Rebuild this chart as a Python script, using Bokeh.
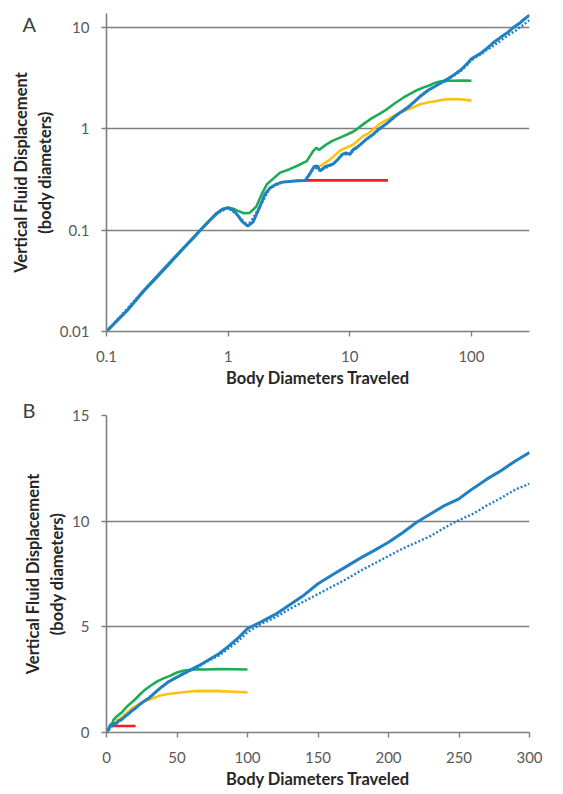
from bokeh.plotting import figure
from bokeh.layouts import column
from bokeh.models import FixedTicker
from bokeh.embed import file_html
from bokeh.resources import INLINE

# ---------------- data (body diameters traveled vs vertical displacement) ----------------
blue_x = [0.1, 0.15, 0.2, 0.3, 0.4, 0.5, 0.6, 0.7, 0.8, 0.9, 1.0, 1.1, 1.2, 1.3, 1.45,
          1.6, 1.8, 2.0, 2.2, 2.5, 2.8, 3.2, 3.7, 4.3, 4.7, 5.1, 5.4, 5.7, 6.2, 7.3, 8.0,
          8.7, 9.3, 10.0, 10.6, 11.5, 12.2, 13.5, 15.6, 17.8, 20, 23, 26, 30, 34, 38, 44,
          50, 55, 59, 65, 72, 80, 86, 93, 100, 110, 120, 130, 140, 150, 160, 170, 180,
          190, 200, 210, 220, 230, 240, 250, 260, 270, 280, 290, 300]
blue_y = [0.010, 0.0165, 0.025, 0.042, 0.061, 0.081, 0.102, 0.124, 0.145, 0.161, 0.166,
          0.158, 0.140, 0.122, 0.110, 0.120, 0.165, 0.225, 0.26, 0.285, 0.298, 0.303,
          0.307, 0.31, 0.36, 0.425, 0.43, 0.385, 0.42, 0.45, 0.50, 0.56, 0.58, 0.56,
          0.62, 0.66, 0.70, 0.78, 0.886, 1.02, 1.12, 1.30, 1.45, 1.62, 1.86, 2.10, 2.40,
          2.62, 2.80, 2.94, 3.15, 3.42, 3.74, 4.05, 4.45, 4.92, 5.25, 5.60, 6.05, 6.50,
          7.04, 7.45, 7.85, 8.25, 8.62, 9.00, 9.45, 9.95, 10.35, 10.75, 11.06, 11.55,
          12.00, 12.40, 12.85, 13.25]

bluedot_x = [0.1, 0.2, 0.4, 0.6, 0.8, 1.0, 1.2, 1.45, 1.8, 2.2, 2.8, 3.7, 4.3, 5.1, 5.7,
             7.3, 8.7, 10.0, 12.2, 15.6, 20, 26, 34, 44, 50, 59, 65, 72, 80, 86, 93, 100,
             110, 120, 130, 140, 150, 160, 170, 180, 190, 200, 210, 220, 230, 240, 250,
             260, 270, 280, 290, 300]
bluedot_y = [0.010, 0.025, 0.061, 0.102, 0.145, 0.166, 0.140, 0.110, 0.165, 0.26, 0.298,
             0.307, 0.31, 0.425, 0.385, 0.45, 0.56, 0.56, 0.70, 0.886, 1.12, 1.45, 1.86,
             2.40, 2.62, 2.92, 3.10, 3.38, 3.65, 3.95, 4.30, 4.75, 5.15, 5.45, 5.85, 6.20,
             6.55, 6.90, 7.25, 7.65, 8.00, 8.35, 8.70, 9.00, 9.30, 9.70, 10.05, 10.35,
             10.75, 11.10, 11.50, 11.77]

green_x = [0.1, 0.15, 0.2, 0.3, 0.4, 0.5, 0.6, 0.7, 0.8, 0.9, 1.0, 1.1, 1.2, 1.35, 1.5,
           1.7, 1.9, 2.08, 2.4, 2.68, 3.2, 3.67, 4.43, 4.8, 5.04, 5.3, 5.6, 6.0, 6.4, 7.2,
           8.3, 9.5, 10.5, 11.4, 13, 15, 17.8, 20, 24, 27.7, 31, 36, 40, 45, 50, 55, 59,
           65, 70, 80, 90, 100]
green_y = [0.010, 0.0163, 0.0245, 0.041, 0.060, 0.080, 0.101, 0.124, 0.146, 0.162, 0.167,
           0.163, 0.155, 0.147, 0.148, 0.17, 0.23, 0.284, 0.33, 0.37, 0.40, 0.43, 0.48,
           0.56, 0.61, 0.65, 0.62, 0.66, 0.70, 0.76, 0.82, 0.88, 0.93, 0.99, 1.12, 1.26,
           1.42, 1.55, 1.82, 2.04, 2.20, 2.42, 2.55, 2.68, 2.84, 2.93, 2.96, 2.99, 2.98,
           3.00, 2.99, 2.98]

yellow_x = [5.4, 5.7, 6.9, 8.3, 9.3, 10.7, 12.9, 13.9, 17.8, 20, 26, 30, 38, 43.5, 50,
            56, 63, 70, 80, 90, 100]
yellow_y = [0.42, 0.43, 0.50, 0.61, 0.65, 0.70, 0.85, 0.886, 1.13, 1.22, 1.45, 1.55, 1.75,
            1.82, 1.87, 1.92, 1.96, 1.97, 1.96, 1.93, 1.90]

red_x = [4.3, 8, 12, 16, 20.6]
red_y = [0.31, 0.31, 0.31, 0.31, 0.31]

log_xticks = [0.1, 1, 10, 100]
log_xlabels = ["0.1", "1", "10", "100"]
log_yticks = [0.01, 0.1, 1, 10]
log_ylabels = ["0.01", "0.1", "1", "10"]
lin_xticks = [0, 50, 100, 150, 200, 250, 300]
lin_yticks = [0, 5, 10, 15]

# ---------------- styling ----------------
BLUE = "#1f80c4"
GREEN = "#1eab55"
YELLOW = "#fdc20f"
RED = "#ff1a1a"
GRID = "#7f7f7f"
FONT = "Lato"
FS_TICK = "15px"
FS_LABEL = "16.5px"
XLABEL = "Body Diameters Traveled"
YLABEL = "Vertical Fluid Displacement\n(body diameters)"


def style(p, panel_letter, title_standoff):
    p.outline_line_color = None
    p.background_fill_color = "white"
    p.border_fill_color = "white"
    p.xgrid.visible = False
    p.ygrid.grid_line_color = GRID
    p.ygrid.grid_line_width = 1.6
    for ax in (p.xaxis[0], p.yaxis[0]):
        ax.axis_line_color = GRID
        ax.axis_line_width = 1.6
        ax.major_tick_line_color = GRID
        ax.major_tick_line_width = 1.4
        ax.major_tick_out = 5
        ax.major_tick_in = 0
        ax.minor_tick_out = 0
        ax.minor_tick_in = 0
        ax.major_label_text_font = FONT
        ax.major_label_text_font_size = FS_TICK
        ax.major_label_text_color = "#595959"
        ax.axis_label_text_font = FONT
        ax.axis_label_text_font_size = FS_LABEL
        ax.axis_label_text_font_style = "bold"
        ax.axis_label_text_color = "#262626"
    p.xaxis.major_label_standoff = 14
    p.xaxis.axis_label_standoff = 3
    p.yaxis.major_label_standoff = 12
    p.yaxis.axis_label_standoff = 2
    p.xaxis.axis_label = XLABEL
    p.yaxis.axis_label = YLABEL
    # panel letter as the figure title, pulled to the left of the frame
    p.title.text = panel_letter
    p.title.text_font = FONT
    p.title.text_font_size = "20px"
    p.title.text_font_style = "normal"
    p.title.text_color = "#404040"
    p.title.align = "left"
    p.title.offset = -84
    p.title.standoff = title_standoff


def draw(p):
    p.line(green_x, green_y, line_color=GREEN, line_width=2.6)
    p.line(yellow_x, yellow_y, line_color=YELLOW, line_width=2.6)
    p.line(red_x, red_y, line_color=RED, line_width=2.6)
    p.line(bluedot_x, bluedot_y, line_color=BLUE, line_width=2.4, line_dash="2 2")
    p.line(blue_x, blue_y, line_color=BLUE, line_width=3)


# ---------------- panel A (log-log) ----------------
p1 = figure(width=563, height=391, x_axis_type="log", y_axis_type="log",
            x_range=(0.1, 300), y_range=(0.01, 13.75),
            output_backend="svg", toolbar_location=None,
            min_border_left=106, min_border_right=34, min_border_top=13, min_border_bottom=60)
style(p1, "A", -44)
p1.xaxis.ticker = FixedTicker(ticks=log_xticks)
p1.yaxis.ticker = FixedTicker(ticks=log_yticks)
p1.xaxis.major_label_overrides = {t: s for t, s in zip(log_xticks, log_xlabels)}
p1.yaxis.major_label_overrides = {t: s for t, s in zip(log_yticks, log_ylabels)}
draw(p1)

# ---------------- panel B (linear) ----------------
p2 = figure(width=563, height=402, x_range=(0, 300), y_range=(0, 15),
            output_backend="svg", toolbar_location=None,
            min_border_left=105, min_border_right=23, min_border_top=24, min_border_bottom=61)
style(p2, "B", -12)
p2.xaxis.ticker = FixedTicker(ticks=lin_xticks)
p2.yaxis.ticker = FixedTicker(ticks=lin_yticks)
draw(p2)

layout = column(p1, p2, spacing=0)
open("out.html", "w").write(file_html(layout, INLINE))
